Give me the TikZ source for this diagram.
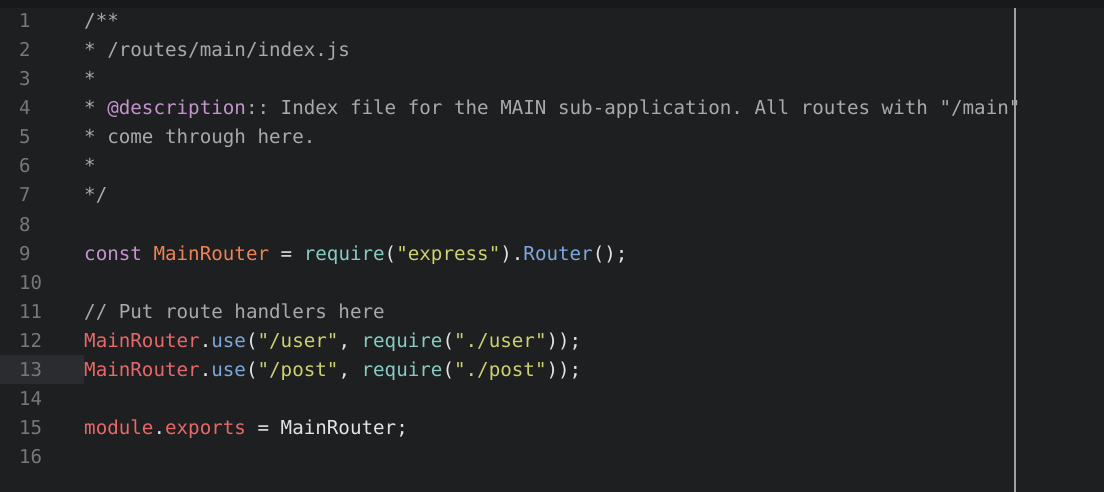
\documentclass[tikz,border=0pt]{standalone}
\usepackage{fontspec}
\setmonofont{DejaVu Sans Mono}
\definecolor{bg}{HTML}{1E1F21}
\definecolor{topbar}{HTML}{18191B}
\definecolor{hl}{HTML}{2A2C30}
\definecolor{lnum}{HTML}{76787C}
\definecolor{cmt}{HTML}{A8A9AB}
\definecolor{purp}{HTML}{C592D0}
\definecolor{orng}{HTML}{EB8457}
\definecolor{redc}{HTML}{E8686A}
\definecolor{cyan}{HTML}{86CCC4}
\definecolor{strc}{HTML}{CDD16F}
\definecolor{blu}{HTML}{7DA8DC}
\definecolor{wht}{HTML}{E2E3E4}
\begin{document}
\begin{tikzpicture}[x=1pt,y=-1pt,
  code/.style={anchor=base west,inner sep=0pt,font=\ttfamily\fontsize{19.2}{20}\selectfont,text=wht},
  num/.style={anchor=base west,inner sep=0pt,font=\ttfamily\fontsize{19}{20}\selectfont,text=lnum}]
\fill[bg] (0,0) rectangle (1104,492);
\useasboundingbox (0,0) rectangle (1104,492);
\fill[topbar] (0,0) rectangle (1104,8);
\fill[hl] (0,355) rectangle (84,384);
\draw[lnum!70,line width=1.2pt] (1015,8) -- (1015,492);
\foreach \n in {1,...,16}{
  \node[num] (n\n) at (19,{28+29*(\n-1)}) {\n};
}
\node[code,text=cmt] (l1) at (84,28) {/**};
\node[code,text=cmt] (l2) at (84,57) {* /routes/main/index.js};
\node[code,text=cmt] (l3) at (84,86) {*};
\node[code,text=cmt] (l4) at (84,115) {* \textcolor{purp}{@description}:: Index file for the MAIN sub-application. All routes with "/main"};
\node[code,text=cmt] (l5) at (84,144) {* come through here.};
\node[code,text=cmt] (l6) at (84,173) {*};
\node[code,text=cmt] (l7) at (84,202) {*/};
\node[code] (l9) at (84,260) {\textcolor{purp}{const} \textcolor{orng}{MainRouter} = \textcolor{cyan}{require}(\textcolor{strc}{"express"}).\textcolor{blu}{Router}();};
\node[code,text=cmt] (l11) at (84,318) {// Put route handlers here};
\node[code] (l12) at (84,347) {\textcolor{redc}{MainRouter}.\textcolor{blu}{use}(\textcolor{strc}{"/user"}, \textcolor{cyan}{require}(\textcolor{strc}{"./user"}));};
\node[code] (l13) at (84,376) {\textcolor{redc}{MainRouter}.\textcolor{blu}{use}(\textcolor{strc}{"/post"}, \textcolor{cyan}{require}(\textcolor{strc}{"./post"}));};
\node[code] (l15) at (84,434) {\textcolor{redc}{module}.\textcolor{redc}{exports} = MainRouter;};
\end{tikzpicture}
\end{document}
